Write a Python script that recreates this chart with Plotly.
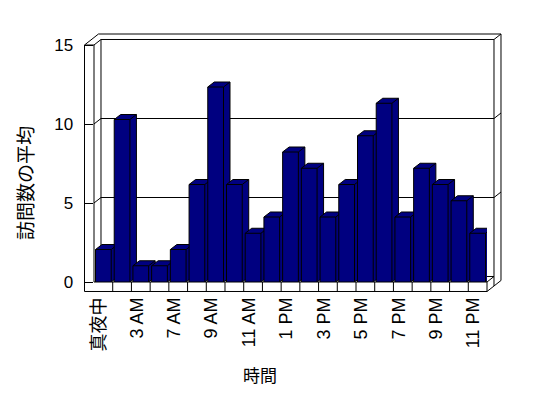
import plotly.graph_objects as go

# ---------------- data ----------------
hours = ["真夜中", "1 AM", "3 AM", "6 AM", "7 AM", "8 AM", "9 AM", "10 AM", "11 AM",
         "12 PM", "1 PM", "2 PM", "3 PM", "4 PM", "5 PM", "6 PM", "7 PM", "8 PM",
         "9 PM", "10 PM", "11 PM"]
visits = [2, 10, 1, 1, 2, 6, 12, 6, 3, 4, 8, 7, 4, 6, 9, 11, 4, 7, 6, 5, 3]
y_ticks = [0, 5, 10, 15]
x_title = "時間"
y_title = "訪問数の平均"

# ---------------- geometry (pixels) ----------------
W, H = 548, 398
FL, FR, FT, FB = 94, 487, 45, 282       # front plane of the plot box
WL = 84.5                               # outer edge of left wall
FLB = 291.5                             # bottom of floor slab
IX, IY = 7, 5.5                         # offset to back wall inner face
OX, OY = 14, 11                         # offset to back wall outer face
YMAX = y_ticks[-1]
BAR_PX_PER_UNIT = 16.25
BW = 0.84
BDX_PX, BDY_PX = 6.5, 5.0
NAVY = "#000080"

n = len(hours)
cw = (FR - FL) / n
pw, ph = FR - FL, FB - FT


def P(x, y):
    return f"{(x - FL) / pw:.5f},{(FB - y) / ph:.5f}"


def path(points, close=False):
    s = "M" + " L".join(P(x, y) for x, y in points)
    return s + (" Z" if close else "")


shapes = []
line = dict(color="black", width=1)

# silhouette of the box (white)
shapes.append(dict(type="path", xref="paper", yref="paper", layer="below",
                   path=path([(WL, FLB), (WL, FT), (WL + OX, FT - OY), (FR + OX, FT - OY),
                              (FR + OX, FLB - OY), (FR, FLB)], close=True),
                   fillcolor="white", line=line))

segs = []
# left wall
segs.append([(WL, FT), (FL, FT), (FL, FB)])
segs.append([(FL, FT), (FL + IX, FT - IY)])
# back wall inner face
segs.append([(FL + IX, FB - IY), (FL + IX, FT - IY), (FR + IX, FT - IY), (FR + IX, FLB - IY)])
segs.append([(FL + IX, FB - IY), (FR + IX, FB - IY)])
segs.append([(FR + IX, FT - IY), (FR + OX, FT - OY)])
# floor front
segs.append([(FL, FB), (FR, FB), (FR, FLB)])
segs.append([(FR, FB), (FR + IX, FB - IY)])
for k in range(1, n):
    xk = FL + k * cw
    segs.append([(xk, FB), (xk, FLB)])
# gridlines on back wall
for v in y_ticks[1:-1]:
    yf = FB - v * ph / YMAX
    segs.append([(FL, yf), (FL + IX, yf - IY), (FR + IX, yf - IY), (FR + OX, yf - OY)])

shapes.append(dict(type="path", xref="paper", yref="paper", layer="below",
                   path=" ".join(path(s) for s in segs), line=line))

# ---------------- bars (3D-looking columns) ----------------
bdx = BDX_PX / cw
bdy = BDY_PX / BAR_PX_PER_UNIT
traces = [go.Scatter(x=[], y=[], mode="lines", hoverinfo="skip", showlegend=False)]
for i, v in enumerate(visits):
    xl, xr = i - BW / 2, i + BW / 2
    xs = [xl, xl, xl + bdx, xr + bdx, xr + bdx, xr, xl, None,
          xl, xr, xr, None, xr, xr + bdx]
    ys = [0, v, v + bdy, v + bdy, bdy, 0, 0, None,
          v, v, 0, None, v, v + bdy]
    traces.append(go.Scatter(x=xs, y=ys, mode="lines", fill="toself", fillcolor=NAVY,
                             line=dict(color="black", width=1), yaxis="y2",
                             hoverinfo="skip", showlegend=False))

fig = go.Figure(traces)

tickvals = list(range(0, n, 2))
ticktext = []
for i in tickvals:
    t = hours[i]
    if any(ord(c) > 0x3000 for c in t):
        t = f'<span style="font-size:18px">{t}</span>'
    ticktext.append(t)

fig.update_layout(
    width=W, height=H,
    margin=dict(l=FL, r=W - FR, t=FT, b=H - FB, pad=0),
    paper_bgcolor="white", plot_bgcolor="rgba(0,0,0,0)",
    showlegend=False, hovermode=False,
    font=dict(family="Liberation Sans, Noto Sans CJK JP", color="black", size=15),
    xaxis=dict(range=[-0.5, n - 0.5], tickvals=tickvals, ticktext=ticktext,
               tickangle=-90, showgrid=False, zeroline=False, showline=False,
               ticks="", ticklabelstandoff=11, ticklabelshift=-4, automargin=False,
               tickfont=dict(size=18, family="Liberation Sans, Noto Sans CJK JP")),
    yaxis=dict(range=[0, YMAX], tickvals=y_ticks, showgrid=False, zeroline=False,
               showline=False, ticks="outside", ticklen=FL - WL, tickcolor="black",
               tickwidth=1, ticklabelstandoff=7, automargin=False,
               tickfont=dict(size=17, family="Liberation Sans")),
    yaxis2=dict(range=[0, ph / BAR_PX_PER_UNIT], overlaying="y", visible=False),
    shapes=shapes,
    annotations=[
        dict(text=x_title, xref="paper", yref="paper",
             x=(259.7 - FL) / pw, y=(FB - 374) / ph, showarrow=False,
             xanchor="center", yanchor="middle",
             font=dict(size=17, family="Noto Sans CJK JP")),
        dict(text=y_title, xref="paper", yref="paper",
             x=(24 - FL) / pw, y=(FB - 183) / ph, showarrow=False, textangle=-90,
             xanchor="center", yanchor="middle",
             font=dict(size=19, family="Noto Sans CJK JP")),
    ],
)

fig.write_html("out.html")
